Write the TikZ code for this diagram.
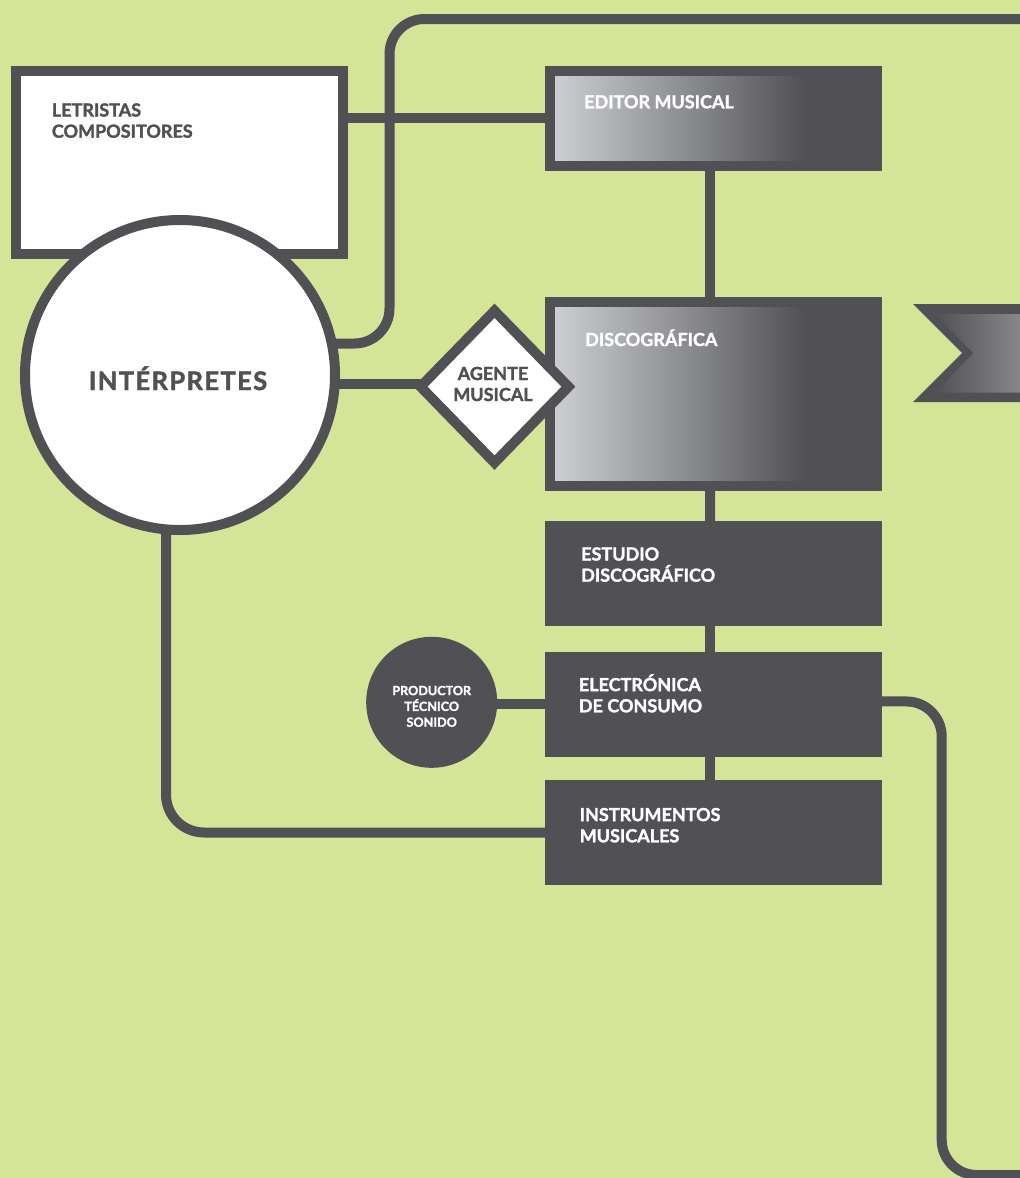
\documentclass[tikz,border=0pt]{standalone}
\usepackage{fontspec}
\setmainfont{Lato}[BoldFeatures={FakeBold=1.6}]
\usetikzlibrary{shapes.geometric}
\definecolor{bggreen}{HTML}{D5E598}
\definecolor{darkg}{HTML}{505055}
\definecolor{lightg}{HTML}{CED1D4}
\definecolor{arrowlight}{HTML}{8E8E92}
\pgfdeclarehorizontalshading{boxgrad}{100bp}{color(0bp)=(lightg); color(25bp)=(lightg); color(64bp)=(darkg); color(100bp)=(darkg)}
\pgfdeclarelayer{back}
\pgfsetlayers{back,main}
\tikzset{
  conn/.style={draw=darkg, line width=10pt},
  whitebox/.style={rectangle, draw=darkg, fill=white, line width=10pt, inner sep=0pt},
  gradbox/.style={rectangle, draw=darkg, line width=10pt, inner sep=0pt, shade, shading=boxgrad},
  solidbox/.style={rectangle, fill=darkg, inner sep=0pt, minimum width=336.8pt},
  lbl/.style={anchor=base west, align=left, inner sep=0pt, font=\fontsize{18}{21.2}\selectfont\bfseries},
  wlbl/.style={lbl, text=white},
}
\begin{document}
\begin{tikzpicture}[x=1pt,y=-1pt]
\useasboundingbox (0,0) rectangle (1020,1178);
\begin{pgfonlayer}{back}
  \fill[bggreen] (0,0) rectangle (1020,1178);
\end{pgfonlayer}

% boxes
\node[whitebox, minimum width=326.8pt, minimum height=183.3pt] (letr) at (179.1,162.35) {};
\node[gradbox, minimum width=326.7pt, minimum height=95pt] (editor) at (713.35,118.2) {};
\node[gradbox, minimum width=326.7pt, minimum height=184pt] (disco) at (713.35,393.7) {};
\node[solidbox, minimum height=105pt] (estudio) at (713.1,573.5) {};
\node[solidbox, minimum height=104.7pt] (electro) at (713.1,704.35) {};
\node[solidbox, minimum height=105pt] (instr) at (713.1,832.5) {};
\node[circle, draw=darkg, fill=white, line width=10pt, minimum size=310pt, inner sep=0pt] (interp) at (180,375) {};
\node[diamond, draw=darkg, fill=white, line width=10pt, minimum width=152pt, minimum height=156pt, inner sep=0pt] (agente) at (494.5,386.7) {};
\node[circle, fill=darkg, minimum size=131pt, inner sep=0pt] (prod) at (431.7,702.3) {};

% chevron on the right
\fill[darkg] (913,304) -- (1030,304) -- (1030,402) -- (913,402) -- (962,353) -- cycle;
\shade[left color=darkg, right color=arrowlight] (935,314) -- (1030,314) -- (1030,392.7) -- (935,392.7) -- (973.5,353) -- cycle;

% labels (multi-line nodes: base = last line)
\node[lbl, text=darkg] (letrT) at (51.7,137.7) {LETRISTAS\\COMPOSITORES};
\node[wlbl] (editorT) at (584,108.3) {EDITOR MUSICAL};
\node[wlbl] (discoT) at (585,346) {DISCOGRÁFICA};
\node[wlbl] (estudioT) at (581,581.7) {ESTUDIO\\DISCOGRÁFICO};
\node[wlbl] (electroT) at (578.7,712.3) {ELECTRÓNICA\\DE CONSUMO};
\node[wlbl] (instrT) at (579.5,842.3) {INSTRUMENTOS\\MUSICALES};
\node[anchor=base, inner sep=0pt, text=darkg, font=\fontsize{25.5}{30}\selectfont\bfseries\addfontfeature{LetterSpace=5.5}] (interpT) at (178,390) {INTÉRPRETES};
\node[anchor=base, align=center, inner sep=0pt, text=darkg, font=\fontsize{18}{21}\selectfont\bfseries] (agenteT) at (493,401) {AGENTE\\MUSICAL};
\node[anchor=base, align=center, inner sep=0pt, text=white, font=\fontsize{12.6}{15.8}\selectfont\bfseries] (prodT) at (431.7,726.7) {PRODUCTOR\\TÉCNICO\\SONIDO};

\coordinate (topexit) at (1030,19);
\coordinate (botexit) at (1030,1175);

% connectors
\begin{pgfonlayer}{back}
  \draw[conn, rounded corners=35pt] ([yshift=31.5pt]interp.center) -- (389.5,343.5) -- (389.5,19) -- (topexit);
  \draw[conn] (letr.center |- editor.center) -- (editor.center);
  \draw[conn] ([xshift=-3pt]editor.center) -- ([xshift=-3pt]disco.center);
  \draw[conn] ([yshift=2.7pt]agente.center) -- ([yshift=2.7pt]agente.center -| interp.center);
  \draw[conn] ([xshift=-3pt]disco.center) -- ([xshift=-3pt]estudio.center);
  \draw[conn] ([xshift=-3pt]estudio.center) -- ([xshift=-3pt]electro.center);
  \draw[conn] ([xshift=-3pt]electro.center) -- ([xshift=-3pt]instr.center);
  \draw[conn] (electro.center -| prod.center) -- (electro.center);
  \draw[conn, rounded corners=38pt] ([xshift=-14pt]interp.center) |- (instr.center);
  \draw[conn, rounded corners=35pt] ([yshift=3pt]electro.center) -- (941.7,701.5) -- (941.7,1175) -- (botexit);
\end{pgfonlayer}
\end{tikzpicture}
\end{document}
